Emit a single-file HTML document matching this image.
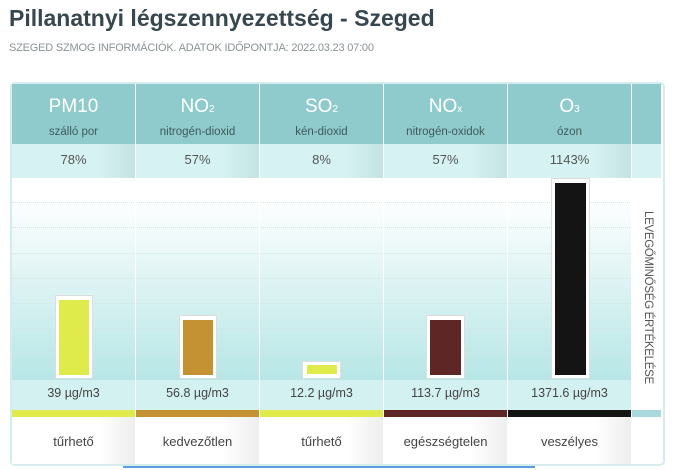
<!DOCTYPE html>
<html><head><meta charset="utf-8"><style>
*{margin:0;padding:0;box-sizing:border-box}
body{width:676px;height:470px;background:#fff;font-family:"Liberation Sans",sans-serif;position:relative;overflow:hidden}
.a{position:absolute}
h1{position:absolute;left:9px;top:5px;font-size:23px;font-weight:bold;color:#37474f;white-space:nowrap}
.sub{left:9px;top:42px;font-size:11px;color:#8a9296;white-space:nowrap;letter-spacing:-0.2px}
.panel{left:10px;top:82px;width:655px;height:384px;border:2px solid #d4ecec;border-radius:5px;background:#fff}
.col{position:absolute;top:84px;width:123px;height:380px}
.hd{position:absolute;left:0;top:0;width:100%;height:60px;background:#8fcbcd;color:#fff;text-align:center}
.hd b{display:block;font-weight:normal;font-size:19px;margin-top:12px}
.hd b sub{font-size:10px;vertical-align:baseline}
.hd i{display:block;font-style:normal;font-size:11.5px;color:#3e5a5c;margin-top:8px}
.pc{position:absolute;top:60px;left:0;width:100%;height:34px;background:linear-gradient(90deg,#d6f2f2 70%,#c3e3e3);text-align:center;font-size:13px;color:#555;padding-top:8px}
.ch{position:absolute;top:94px;left:0;width:100%;height:202px;background:linear-gradient(#fff,#fff 10%,#b7e6e6)}
.vl{position:absolute;top:296px;left:0;width:100%;height:30px;background:#d3f1f1;text-align:center;font-size:12.5px;color:#444;padding-top:6px}
.cb{position:absolute;top:326px;left:0;width:100%;height:7px}
.st{position:absolute;top:333px;left:0;width:100%;height:47px;background:linear-gradient(90deg,#fff 70%,#eee);text-align:center;font-size:13px;color:#444;padding-top:17px}
.sep{position:absolute;top:84px;width:1px;height:380px;background:rgba(255,255,255,.8)}
.fr{position:absolute;background:#fff;border:1px solid #ddd}
.grid{position:absolute;left:12px;width:620px;height:0;border-top:1px dotted #cfe6e6}
</style></head><body>
<h1>Pillanatnyi légszennyezettség - Szeged</h1>
<div class="a sub">SZEGED SZMOG INFORMÁCIÓK. ADATOK IDŐPONTJA: 2022.03.23 07:00</div>
<div class="a panel"></div>

<div class="col" style="left:12px"><div class="hd"><b>PM10</b><i>szálló por</i></div><div class="pc">78%</div><div class="ch"></div><div class="vl">39 µg/m3</div><div class="cb" style="background:#dfeb4a"></div><div class="st">tűrhető</div></div>
<div class="col" style="left:136px"><div class="hd"><b>NO<sub>2</sub></b><i>nitrogén-dioxid</i></div><div class="pc">57%</div><div class="ch"></div><div class="vl">56.8 µg/m3</div><div class="cb" style="background:#c49232"></div><div class="st">kedvezőtlen</div></div>
<div class="col" style="left:260px"><div class="hd"><b>SO<sub>2</sub></b><i>kén-dioxid</i></div><div class="pc">8%</div><div class="ch"></div><div class="vl">12.2 µg/m3</div><div class="cb" style="background:#dfeb4a"></div><div class="st">tűrhető</div></div>
<div class="col" style="left:384px"><div class="hd"><b>NO<sub>x</sub></b><i>nitrogén-oxidok</i></div><div class="pc">57%</div><div class="ch"></div><div class="vl">113.7 µg/m3</div><div class="cb" style="background:#5e2624"></div><div class="st">egészségtelen</div></div>
<div class="col" style="left:508px"><div class="hd"><b>O<sub>3</sub></b><i>ózon</i></div><div class="pc">1143%</div><div class="ch"></div><div class="vl">1371.6 µg/m3</div><div class="cb" style="background:#141414"></div><div class="st">veszélyes</div></div>
<div class="col" style="left:632px;width:29px"><div class="hd"></div><div class="pc" style="background:#d6f2f2"></div><div class="ch" style="height:232px;background:#fff"></div><div class="cb" style="background:#a9d9dd"></div><div class="st" style="background:#fff"></div></div>

<div class="grid" style="top:202px"></div><div class="grid" style="top:227px"></div><div class="grid" style="top:253px"></div><div class="grid" style="top:278px"></div><div class="grid" style="top:303px"></div><div class="grid" style="top:328px"></div><div class="grid" style="top:354px"></div>

<div class="sep" style="left:135px"></div><div class="sep" style="left:259px"></div><div class="sep" style="left:383px"></div><div class="sep" style="left:507px"></div><div class="sep" style="left:631px"></div>

<div class="fr" style="left:55px;top:295px;width:38px;height:84px"><div class="a" style="left:3px;top:4px;width:30px;height:75px;background:#dfeb4a"></div></div>
<div class="fr" style="left:179px;top:315px;width:38px;height:64px"><div class="a" style="left:3px;top:4px;width:30px;height:55px;background:#c49232"></div></div>
<div class="fr" style="left:302px;top:361px;width:39px;height:18px"><div class="a" style="left:4px;top:3px;width:30px;height:9px;background:#dfeb4a"></div></div>
<div class="fr" style="left:426px;top:315px;width:39px;height:64px"><div class="a" style="left:3px;top:4px;width:31px;height:55px;background:#5e2624"></div></div>
<div class="fr" style="left:551px;top:178px;width:39px;height:201px"><div class="a" style="left:3px;top:4px;width:31px;height:192px;background:#141414"></div></div>

<div class="a" style="top:297px;width:172px;height:14px;transform:translate(-50%,-50%) rotate(90deg);transform-origin:center;left:647px;font-size:11.5px;color:#555;white-space:nowrap;text-align:center;letter-spacing:-0.3px">LEVEGŐMINŐSÉG ÉRTÉKELÉSE</div>
<div class="a" style="left:123px;top:466px;width:412px;height:2px;background:#5b9be0"></div>
</body></html>
